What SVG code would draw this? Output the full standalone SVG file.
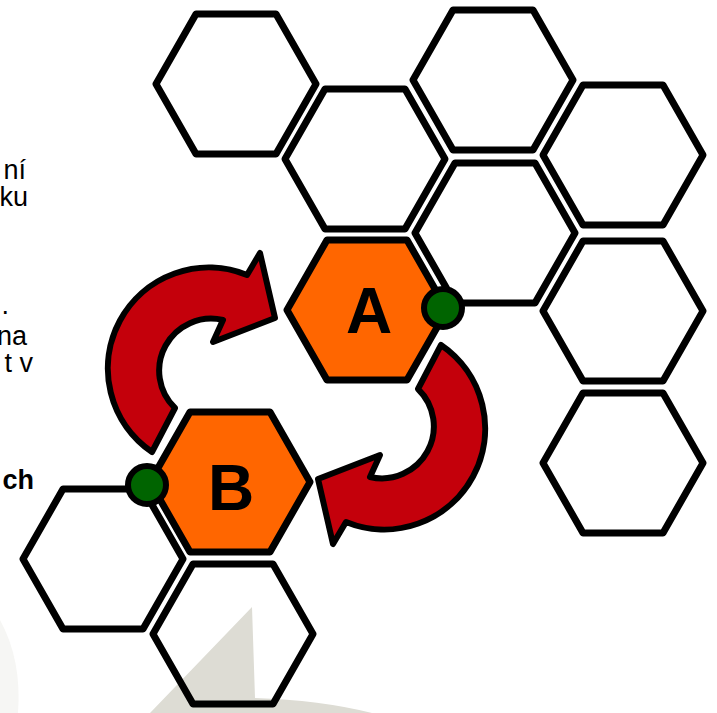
<svg xmlns="http://www.w3.org/2000/svg" width="717" height="713" viewBox="0 0 717 713">
<style>
.hex{fill:none;stroke:#000;stroke-width:7;stroke-linejoin:round}
.hexo{fill:#ff6600;stroke:#000;stroke-width:7;stroke-linejoin:round}
.dot{fill:#006400;stroke:#000;stroke-width:6}
.arr{fill:#c4000b;stroke:#000;stroke-width:6;stroke-linejoin:round}
.lbl{font-family:"Liberation Sans",Arial,sans-serif;font-weight:bold;font-size:64px;fill:#000;text-anchor:middle}
.txt{font-family:"Liberation Sans",Arial,sans-serif;font-size:27px;fill:#000;text-anchor:end}
</style>
<defs>
<polygon id="hx" points="-80,0 -40,-70 40,-70 80,0 40,70 -40,70"/>
</defs>
<g id="watermark">
<path d="M252,607 L255,698 Q320,700 372,713 L150,713 Z" fill="#dddcd4"/>
<path d="M0,620 Q22,660 18,713 L0,713 Z" fill="#f6f6f4"/>
</g>
<g id="hex1"><use href="#hx" class="hex" x="236" y="84"/></g>
<g id="hex2"><use href="#hx" class="hex" x="365" y="159"/></g>
<g id="hex3"><use href="#hx" class="hex" x="493" y="80"/></g>
<g id="hex4"><use href="#hx" class="hex" x="623" y="155"/></g>
<g id="hex5"><use href="#hx" class="hex" x="495" y="233"/></g>
<g id="hex8"><use href="#hx" class="hex" x="623" y="311"/></g>
<g id="hex9"><use href="#hx" class="hex" x="623" y="463"/></g>
<g id="hex6"><use href="#hx" class="hex" x="103" y="559"/></g>
<g id="hex7"><use href="#hx" class="hex" x="233" y="634"/></g>
<g id="nodeA"><use href="#hx" class="hexo" x="367" y="310"/><text class="lbl" x="369" y="333">A</text></g>
<g id="nodeB"><use href="#hx" class="hexo" x="230" y="482"/><text class="lbl" x="231" y="510">B</text></g>
<g id="dotA"><circle class="dot" cx="443" cy="308" r="19"/></g>
<g id="dotB"><circle class="dot" cx="147" cy="485" r="19"/></g>
<g id="connectors">
<path id="arrowBA" class="arr" d="M152,452 A101,101 0 0 1 247,275 L260,253 L275,318 L213,342 L223,320 A52,52 0 0 0 175,408 Z"/>
<path id="arrowAB" class="arr" transform="rotate(180 296.5 398.5)" d="M152,452 A101,101 0 0 1 247,275 L260,253 L275,318 L213,342 L223,320 A52,52 0 0 0 175,408 Z"/>
</g>
<g id="text">
<text class="txt" x="26" y="179">ní</text>
<text class="txt" x="28" y="206">ku</text>
<text class="txt" x="9" y="314">.</text>
<text class="txt" x="27" y="345">na</text>
<text class="txt" x="33" y="372">t v</text>
<text class="txt" x="34" y="489" font-weight="bold">ch</text>
</g>
</svg>
